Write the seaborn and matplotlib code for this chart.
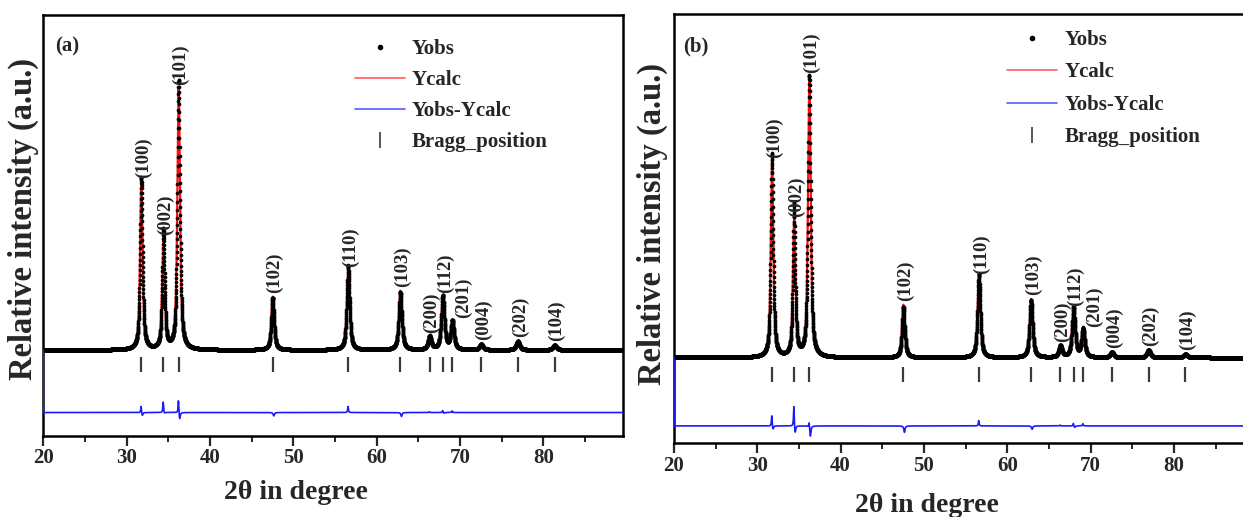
import numpy as np
import pandas as pd
import matplotlib
matplotlib.use("Agg")
import matplotlib.pyplot as plt
import seaborn as sns
from matplotlib.lines import Line2D
from matplotlib.ticker import MultipleLocator

# ---------------- data ----------------
hkl = ["(100)", "(002)", "(101)", "(102)", "(110)", "(103)",
       "(200)", "(112)", "(201)", "(004)", "(202)", "(104)"]
bragg_pos = [31.77, 34.42, 36.25, 47.54, 56.60, 62.86,
             66.38, 67.96, 69.10, 72.56, 76.96, 81.38]
peak_fwhm = [0.36, 0.36, 0.38, 0.40, 0.42, 0.44,
             0.46, 0.46, 0.46, 0.48, 0.50, 0.52]
height_a = [64.2, 42.6, 100.0, 20.4, 30.4, 22.6, 4.9, 20.1, 10.5, 2.2, 3.3, 1.8]
height_b = [69.9, 48.5, 100.0, 18.8, 28.3, 20.8, 3.9, 17.0, 9.5, 1.9, 2.7, 1.2]
# residual (Yobs - Ycalc) spikes at each reflection
diff_up_a = [2.6, 4.1, 5.1, 0.0, 2.3, 0.0, 0.3, 0.8, 0.6, 0.0, 0.0, 0.0]
diff_dn_a = [-1.3, -0.5, -2.8, -1.3, 0.0, -1.5, 0.0, -0.3, 0.0, 0.0, 0.0, 0.0]
diff_up_b = [3.9, 7.5, 1.9, 0.0, 1.9, 0.0, 0.3, 1.0, 0.8, 0.0, 0.0, 0.0]
diff_dn_b = [-1.4, -2.9, -3.8, -2.3, 0.0, -1.2, 0.0, -0.6, 0.0, 0.0, 0.0, 0.0]
diff_level_a = -24.0
diff_level_b = -24.4
bragg_span_a = (-2.6, -8.3)
bragg_span_b = (-3.2, -8.6)
ylim_a = (-33.0, 128.5)
ylim_b = (-30.5, 122.6)
two_theta = np.arange(20.0, 89.6, 0.01)
xticks_major = [20, 30, 40, 50, 60, 70, 80]


def pv(x, c, h, w, eta=0.7):
    u = (x - c) / w
    return h * (eta / (1 + 4 * u ** 2) + (1 - eta) * np.exp(-4 * np.log(2) * u ** 2))


def pattern(heights, ups, dns, level):
    ycalc = np.zeros_like(two_theta)
    for c, h, w in zip(bragg_pos, heights, peak_fwhm):
        ycalc += pv(two_theta, c, h, w)
    diff = np.zeros_like(two_theta)
    for c, u, d in zip(bragg_pos, ups, dns):
        diff += pv(two_theta, c - 0.03, u, 0.10, eta=1.0)
        diff += pv(two_theta, c + 0.12, d, 0.16, eta=1.0)
    yobs = ycalc + diff
    dline = diff + level
    dline[0] = 0.0  # first point of the residual sits at the pattern level
    return pd.DataFrame({"x": two_theta, "yobs": yobs, "ycalc": ycalc, "diff": dline})


# ---------------- styling ----------------
sns.set_style("ticks")
plt.rcParams["font.family"] = ["Liberation Serif", "DejaVu Serif"]
plt.rcParams["font.weight"] = "bold"
plt.rcParams["axes.labelweight"] = "bold"
plt.rcParams["axes.linewidth"] = 1.8

fig = plt.figure(figsize=(12.43, 5.17), dpi=100)
fig.patch.set_facecolor("white")

panels = [
    dict(rect=[0.0348, 0.1567, 0.4666, 0.8143], heights=height_a, ups=diff_up_a, dns=diff_dn_a,
         level=diff_level_a, span=bragg_span_a, ylim=ylim_a, tag="(a)",
         leg=(0.537, 0.942), ls=0.52, xl=(0.436, -0.105), yl=(-0.008, 0.515)),
    dict(rect=[0.5422, 0.1431, 0.4666, 0.8298], heights=height_b, ups=diff_up_b, dns=diff_dn_b,
         level=diff_level_b, span=bragg_span_b, ylim=ylim_b, tag="(b)",
         leg=(0.574, 0.963), ls=0.6, xl=(0.436, -0.117), yl=(-0.011, 0.51)),
]

for p in panels:
    ax = fig.add_axes(p["rect"])
    df = pattern(p["heights"], p["ups"], p["dns"], p["level"])

    sns.lineplot(data=df, x="x", y="ycalc", ax=ax, color="#ff1010", lw=1.6,
                 legend=False, zorder=2, estimator=None, sort=False)
    sns.scatterplot(data=df, x="x", y="yobs", ax=ax, color="black", s=7,
                    linewidth=0, legend=False, zorder=3)
    sns.lineplot(data=df, x="x", y="diff", ax=ax, color="#1a1aff", lw=1.2,
                 legend=False, zorder=3, estimator=None, sort=False)
    ax.vlines(bragg_pos, p["span"][1], p["span"][0], color="#3a3a3a", lw=1.6, zorder=3)

    for name, c, h in zip(hkl, bragg_pos, p["heights"]):
        dx = 8 if name == "(201)" else 1.5
        ax.annotate(name, xy=(c, h), xytext=(dx, 3), textcoords="offset points",
                    rotation=90, ha="center", va="bottom", fontsize=13.5,
                    fontweight="bold")

    ax.set_xlim(20, 89.6)
    ax.set_ylim(*p["ylim"])
    ax.xaxis.set_major_locator(MultipleLocator(10))
    ax.xaxis.set_minor_locator(MultipleLocator(5))
    ax.set_xticks(xticks_major)
    ax.set_yticks([])
    ax.tick_params(axis="x", which="major", direction="out", length=7, width=1.6,
                   labelsize=15, pad=2)
    ax.tick_params(axis="x", which="minor", direction="out", length=4.5, width=1.4)
    for lab in ax.get_xticklabels():
        lab.set_fontweight("bold")
    for s in ax.spines.values():
        s.set_linewidth(1.8)
        s.set_color("black")

    ax.set_xlabel("2θ in degree", fontsize=20, fontweight="bold")
    ax.set_ylabel("Relative intensity (a.u.)", fontsize=23.5, fontweight="bold")
    ax.xaxis.set_label_coords(*p["xl"])
    ax.yaxis.set_label_coords(*p["yl"])

    ax.text(0.02 if p["tag"] == "(a)" else 0.016, 0.925, p["tag"], transform=ax.transAxes,
            fontsize=15, fontweight="bold", va="center", ha="left")

    handles = [
        Line2D([], [], ls="none", marker="o", markersize=3, color="black"),
        Line2D([], [], color="#ff5a5a", lw=1.2),
        Line2D([], [], color="#5a5aff", lw=1.2),
        Line2D([], [], ls="none", marker="|", markersize=11, markeredgewidth=1.4, color="#555555"),
    ]
    ax.legend(handles, ["Yobs", "Ycalc", "Yobs-Ycalc", "Bragg_position"],
              loc="upper left", bbox_to_anchor=p["leg"], frameon=False,
              prop={"size": 15, "weight": "bold"}, handlelength=2.4,
              handletextpad=0.35, labelspacing=p["ls"], borderpad=0, borderaxespad=0)

fig.savefig("out.png", dpi=100, facecolor="white")
